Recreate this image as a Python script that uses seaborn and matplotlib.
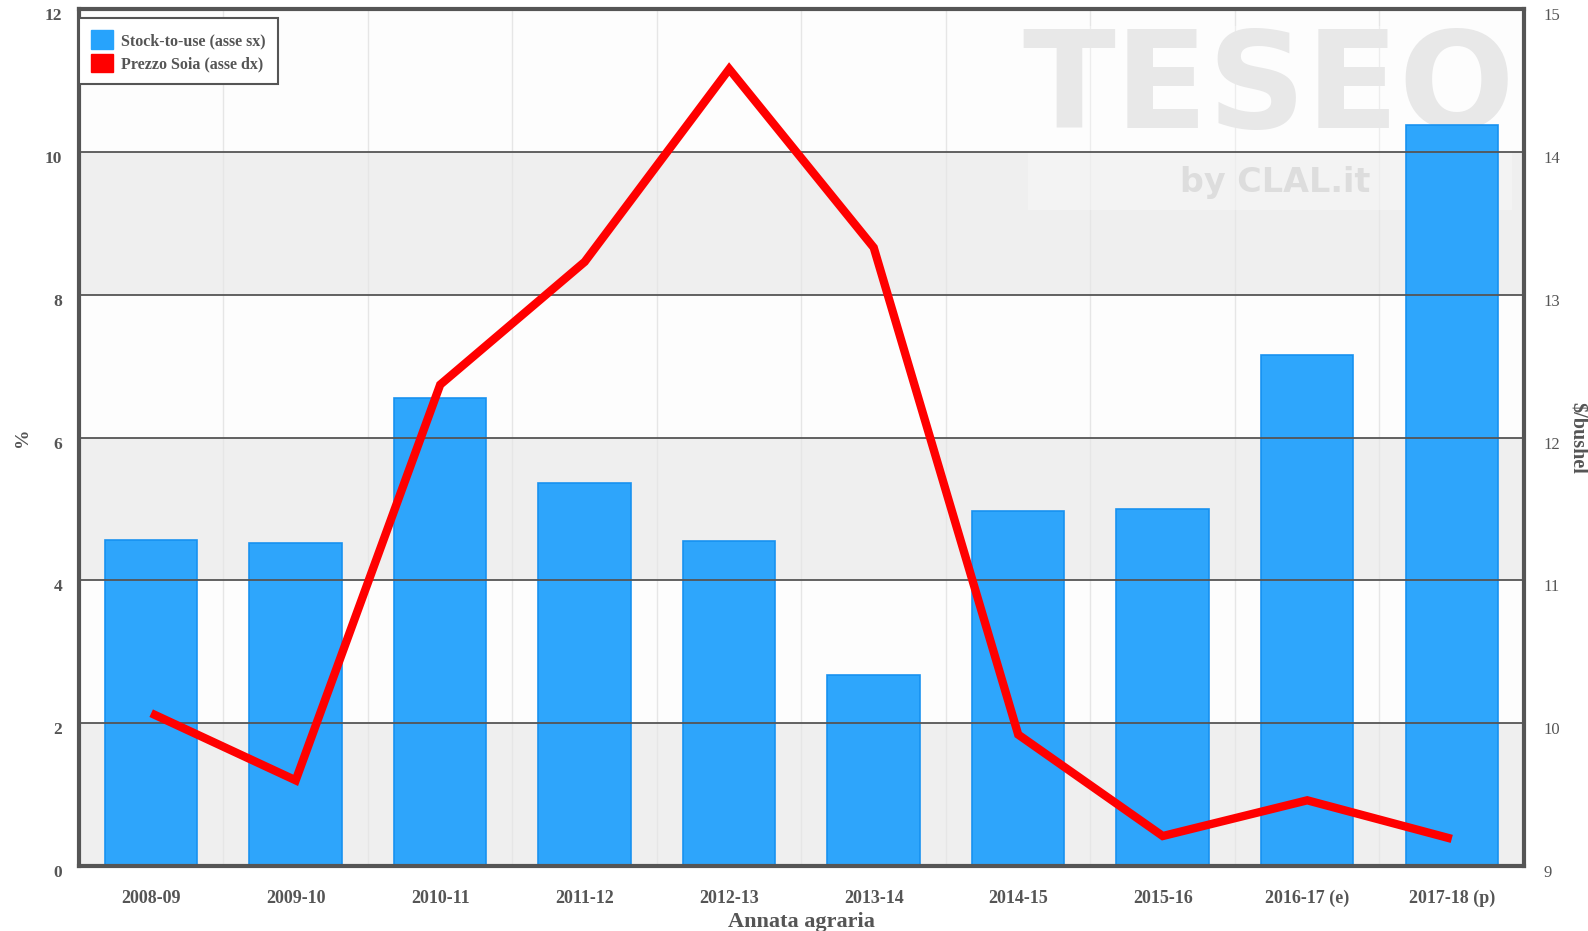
import numpy as np
import pandas as pd
import matplotlib
matplotlib.use("Agg")
import matplotlib.pyplot as plt
import matplotlib.transforms as mtransforms
from matplotlib.patches import Patch, Rectangle
import seaborn as sns

years = ["2008-09", "2009-10", "2010-11", "2011-12", "2012-13",
         "2013-14", "2014-15", "2015-16", "2016-17 (e)", "2017-18 (p)"]
stock_to_use = [4.56, 4.52, 6.56, 5.37, 4.55, 2.67, 4.97, 5.0, 7.16, 10.37]
prezzo_soia = [10.07, 9.60, 12.37, 13.23, 14.58, 13.33, 9.92, 9.21, 9.46, 9.19]
left_ticks = [0, 2, 4, 6, 8, 10, 12]
right_ticks = [9, 10, 11, 12, 13, 14, 15]

TXT = "#555555"
BAR = "#27A3FC"
LINE = "#FF0000"

sns.set_style("white")
plt.rcParams["font.family"] = ["Liberation Serif", "DejaVu Serif"]

df = pd.DataFrame({"annata": years, "stock": stock_to_use, "prezzo": prezzo_soia})

fig = plt.figure(figsize=(15.88, 9.31), dpi=100)
ax = fig.add_axes([0.0497, 0.0698, 0.9100, 0.9205])
ax.set_facecolor("#FDFDFD")

# alternating bands
for lo in left_ticks[:-1:2]:
    ax.axhspan(lo, lo + 2, color="#EFEFEF", zorder=0, lw=0)

# category separators
bounds = np.arange(len(years) + 1) - 0.5
for b in bounds:
    ax.axvline(b, color="#E6E6E6", lw=1, zorder=0.2)

# watermark
ax.add_patch(Rectangle((0.657, 0.765), 0.335, 0.215, transform=ax.transAxes,
                       facecolor="white", alpha=0.3, lw=0, zorder=0.3))
ax.text(0.823, 0.905, "TESEO", transform=ax.transAxes, ha="center", va="center",
        fontsize=98, fontweight="heavy", color="#E8E8E8",
        family=["DejaVu Sans"], zorder=0.4)
ax.text(0.828, 0.797, "by CLAL.it", transform=ax.transAxes, ha="center", va="center",
        fontsize=24, fontweight="bold", color="#DDDDDD",
        family=["DejaVu Sans"], zorder=0.4)

sns.barplot(data=df, x="annata", y="stock", ax=ax, color=BAR, saturation=1,
            width=0.64, edgecolor="#1590F0", linewidth=1.2, alpha=0.97, zorder=2)

ax.set_xlim(-0.5, len(years) - 0.5)
ax.set_ylim(left_ticks[0], left_ticks[-1])
ax.set_yticks(left_ticks)
ax.yaxis.grid(True, color=TXT, lw=1.3)
ax.set_axisbelow(False)
for gl in ax.get_ygridlines():
    gl.set_zorder(1)

ax.set_xticks(range(len(years)))
ax.set_xticklabels(years)
ax.set_xticks(bounds, minor=True)
ax.tick_params(axis="x", which="major", length=0, pad=17, labelsize=13, labelcolor=TXT)
ax.tick_params(axis="x", which="minor", length=8, width=1.5, color=TXT, direction="out")
ax.tick_params(axis="y", length=0, pad=12, labelsize=12.5, labelcolor=TXT)
for lab in ax.get_xticklabels() + ax.get_yticklabels():
    lab.set_fontweight("bold")
shift = mtransforms.ScaledTranslation(0, -5 / 100, fig.dpi_scale_trans)
for lab in ax.get_yticklabels():
    lab.set_transform(lab.get_transform() + shift)

ax.set_xlabel("Annata agraria", fontsize=16, fontweight="bold", color=TXT)
ax.xaxis.set_label_coords(0.5, -0.054)
ax.set_ylabel("%", fontsize=14, fontweight="bold", color=TXT)
ax.yaxis.set_label_coords(-0.033, 0.5)

for sp in ax.spines.values():
    sp.set_visible(True)
    sp.set_color(TXT)
    sp.set_linewidth(3)

# price line on right axis
ax2 = ax.twinx()
sns.lineplot(x=np.arange(len(years)), y=prezzo_soia, ax=ax2, color=LINE,
             lw=6, sort=False, legend=False)
ax2.lines[0].set_solid_joinstyle("miter")
ax2.lines[0].set_solid_capstyle("butt")
ax2.set_ylim(right_ticks[0], right_ticks[-1])
ax2.set_yticks(right_ticks)
ax2.tick_params(axis="y", length=0, pad=14, labelsize=12, labelcolor=TXT)
for lab in ax2.get_yticklabels():
    lab.set_transform(lab.get_transform() + shift)
ax2.grid(False)
for sp in ax2.spines.values():
    sp.set_visible(False)
ax2.set_ylabel("")
ax2.text(1.0367, 0.5, "$/bushel", transform=ax2.transAxes, rotation=-90,
         ha="center", va="center", fontsize=14.5, fontweight="bold", color=TXT)

handles = [Patch(facecolor=BAR, edgecolor=BAR), Patch(facecolor=LINE, edgecolor=LINE)]
leg = ax2.legend(handles, ["Stock-to-use (asse sx)", "Prezzo Soia (asse dx)"],
                 loc="upper left", bbox_to_anchor=(0.0, 0.989), borderaxespad=0,
                 prop={"weight": "bold", "size": 11.5}, frameon=True, fancybox=False,
                 edgecolor=TXT, framealpha=1, handlelength=1.4, handleheight=1.4,
                 handletextpad=0.5, labelspacing=0.3, borderpad=0.75)
leg.get_frame().set_linewidth(1.5)
for t in leg.get_texts():
    t.set_color(TXT)

fig.savefig("out.png", dpi=100)
